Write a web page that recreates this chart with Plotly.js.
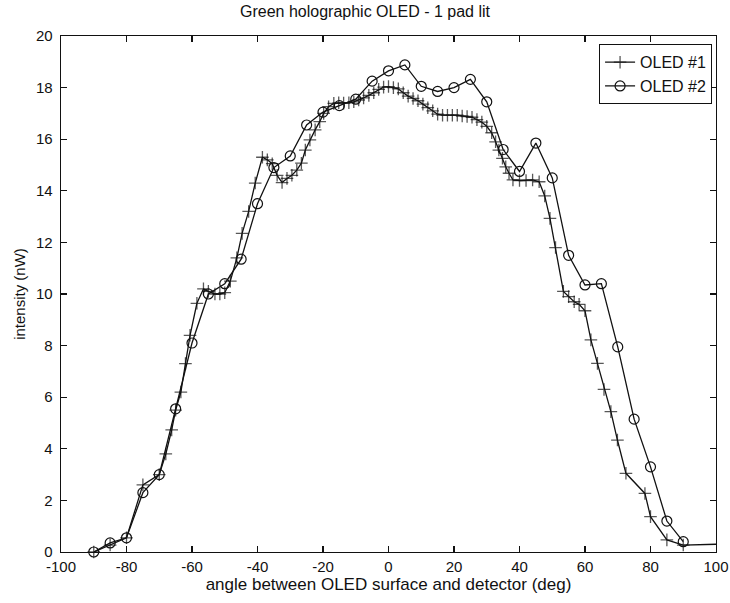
<!DOCTYPE html>
<html>
<head>
<meta charset="utf-8">
<script src="https://cdn.plot.ly/plotly-3.0.1.min.js"></script>
<style>
html, body { margin: 0; padding: 0; background: #fff; }
#chart { width: 730px; height: 603px; }
</style>
</head>
<body>
<div id="chart"></div>
<script>
// OLED #1 (+ markers)
const oled1Angle = [-90, -85, -80, -75, -70, -68, -66.2, -65, -63.4, -62, -60.6, -58.5, -56.5, -55, -53, -51.5, -50, -48.3, -46.3, -44.7, -42.7, -40.7, -38.5, -37, -35.5, -34, -32.5, -31, -29.5, -28, -26.6, -25.4, -24, -22.4, -21, -19.8, -18.3, -16.7, -15.2, -13.7, -12.1, -10.6, -9.1, -7.6, -6, -4.5, -3, -1.5, 0, 1.5, 3, 4.5, 6, 7.5, 9, 10.5, 12, 13.5, 15, 16.5, 18, 19.5, 21, 22.5, 24, 25.5, 27, 28.5, 30, 31.5, 32.7, 33.7, 34.8, 35.8, 36.8, 38, 40, 42, 44, 46, 47.7, 49.3, 51, 53.4, 55, 56.7, 58.2, 60, 61.8, 63.8, 65.8, 67.9, 69.9, 72.5, 78.3, 80, 85, 90, 100];
const oled1Intensity = [0, 0.27, 0.55, 2.6, 3.0, 3.8, 4.73, 5.5, 6.2, 7.3, 8.4, 9.64, 10.2, 10.1, 10.0, 10.0, 10.05, 10.5, 11.4, 12.35, 13.2, 14.3, 15.3, 15.2, 15.05, 14.6, 14.32, 14.48, 14.6, 14.8, 15.07, 15.58, 15.97, 16.36, 16.68, 17.0, 17.26, 17.39, 17.41, 17.4, 17.41, 17.45, 17.52, 17.6, 17.7, 17.8, 17.93, 18.02, 18.04, 18.0, 17.95, 17.8, 17.67, 17.58, 17.49, 17.36, 17.22, 17.1, 16.97, 16.93, 16.93, 16.93, 16.93, 16.9, 16.88, 16.85, 16.76, 16.66, 16.5, 16.25, 15.9, 15.58, 15.26, 14.93, 14.68, 14.42, 14.4, 14.4, 14.42, 14.35, 13.8, 12.93, 11.8, 10.1, 9.9, 9.7, 9.6, 9.35, 8.22, 7.31, 6.3, 5.44, 4.34, 3.05, 2.27, 1.37, 0.47, 0.27, 0.3];

// OLED #2 (o markers)
const oled2Angle = [-90, -85, -80, -75, -70, -65, -60, -55, -50, -45, -40, -35, -30, -25, -20, -15, -10, -5, 0, 5, 10, 15, 20, 25, 30, 35, 40, 45, 50, 55, 60, 65, 70, 75, 80, 85, 90];
const oled2Intensity = [0, 0.35, 0.55, 2.3, 3.0, 5.55, 8.1, 10.0, 10.4, 11.35, 13.5, 14.9, 15.35, 16.55, 17.05, 17.3, 17.55, 18.25, 18.65, 18.88, 18.05, 17.85, 18.0, 18.32, 17.45, 15.6, 14.75, 15.85, 14.5, 11.5, 10.35, 10.4, 7.95, 5.15, 3.3, 1.2, 0.4];

const xTicks = [-100, -80, -60, -40, -20, 0, 20, 40, 60, 80, 100];
const yTicks = [0, 2, 4, 6, 8, 10, 12, 14, 16, 18, 20];

const font = "Liberation Sans, Arial, Helvetica, sans-serif";

const sizes1 = oled1Angle.map((a, i) => i === oled1Angle.length - 1 ? 0 : 9);

const traces = [
  {
    x: oled1Angle, y: oled1Intensity, name: "OLED #1", type: "scatter", mode: "lines+markers",
    line: { color: "#111", width: 1.3 },
    marker: { symbol: "cross-thin-open", size: sizes1, color: "#111", line: { color: "#111", width: 1.3 } },
    cliponaxis: false
  },
  {
    x: oled2Angle, y: oled2Intensity, name: "OLED #2", type: "scatter", mode: "lines+markers",
    line: { color: "#111", width: 1.3 },
    marker: { symbol: "circle-open", size: 10, color: "#111", line: { color: "#111", width: 1.2 } },
    cliponaxis: false
  }
];

const axisCommon = {
  showline: true, linecolor: "#111", linewidth: 1.4, mirror: "ticks",
  ticks: "inside", ticklen: 6, tickwidth: 1.2, tickcolor: "#111",
  showgrid: false, zeroline: false,
  tickfont: { family: font, size: 15, color: "#111" }
};

const layout = {
  width: 730, height: 603,
  paper_bgcolor: "#fff", plot_bgcolor: "#fff",
  margin: { l: 61, r: 14, t: 36, b: 51 },
  title: { text: "Green holographic OLED - 1 pad lit", font: { family: font, size: 16, color: "#111" }, x: 0.5, xanchor: "center", y: 0.99, yanchor: "top" },
  xaxis: Object.assign({}, axisCommon, {
    range: [-100, 100], tickvals: xTicks, ticktext: xTicks.map(String), ticklabelstandoff: 1,
    title: { text: "angle between OLED surface and detector (deg)", font: { family: font, size: 17, color: "#111" }, standoff: 1 }
  }),
  yaxis: Object.assign({}, axisCommon, {
    range: [0, 20], tickvals: yTicks, ticktext: yTicks.map(String), ticklabelstandoff: 4,
    title: { text: "intensity (nW)", font: { family: font, size: 15, color: "#111" }, standoff: 6 }
  }),
  showlegend: true,
  legend: {
    x: 0.994, xanchor: "right", y: 0.984, yanchor: "top",
    bgcolor: "#fff", bordercolor: "#111", borderwidth: 1,
    font: { family: font, size: 16, color: "#111" },
    tracegroupgap: 0, itemwidth: 30
  }
};

Plotly.newPlot("chart", traces, layout, { displayModeBar: false, staticPlot: true });
</script>
</body>
</html>
